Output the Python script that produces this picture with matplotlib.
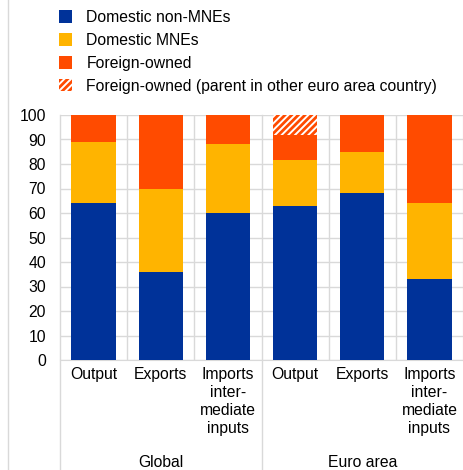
import numpy as np
import matplotlib
matplotlib.use("Agg")
import matplotlib.pyplot as plt
from matplotlib.patches import Patch
from matplotlib.lines import Line2D

plt.rcParams['font.family'] = ['Liberation Sans', 'DejaVu Sans']
plt.rcParams['hatch.linewidth'] = 2.0

# data (shares in %)
categories = ['Output', 'Exports', 'Imports\ninter-\nmediate\ninputs',
              'Output', 'Exports', 'Imports\ninter-\nmediate\ninputs']
groups = ['Global', 'Euro area']
domestic_non_mne = [64, 36, 60, 62.7, 68, 33]
domestic_mne = [25, 34, 28, 18.8, 16.7, 31]
foreign_owned = [11, 30, 12, 10.5, 15.3, 36]
foreign_owned_ea = [0, 0, 0, 8, 0, 0]

labels = ['Domestic non-MNEs', 'Domestic MNEs', 'Foreign-owned',
          'Foreign-owned (parent in other euro area country)']

blue = '#003299'
yellow = '#FFB400'
red = '#FF4B00'
grid_col = '#d9d9d9'
fs = 11.3

fig = plt.figure(figsize=(4.64, 4.70), dpi=100)
ax = fig.add_axes([60 / 464, 1 - 360 / 470, 404 / 464 - 0.002, 245 / 470])

x = np.arange(len(categories))
w = 0.66
b1 = np.array(domestic_non_mne)
b2 = b1 + np.array(domestic_mne)
b3 = b2 + np.array(foreign_owned)
ax.bar(x, domestic_non_mne, w, color=blue, zorder=3)
ax.bar(x, domestic_mne, w, bottom=b1, color=yellow, zorder=3)
ax.bar(x, foreign_owned, w, bottom=b2, color=red, zorder=3)
ax.bar(x, foreign_owned_ea, w, bottom=b3, facecolor='white', edgecolor=red,
       hatch='/////', linewidth=0, zorder=3)

ax.set_xlim(-0.5, len(categories) - 0.5)
ax.set_ylim(0, 100)
ax.set_yticks(range(0, 101, 10))
ax.tick_params(axis='y', length=0, pad=10, labelsize=fs)
ax.tick_params(axis='x', length=0, pad=5, labelsize=fs)
ax.set_xticks(x)
ax.set_xticklabels(categories, linespacing=1.26, va='top')

ax.grid(axis='y', color=grid_col, linewidth=1, zorder=0)
for xb in np.arange(0.5, len(categories) - 0.5, 1):
    if xb == 2.5:
        ax.axvline(xb, ymin=-0.45, ymax=1, color=grid_col, lw=1, clip_on=False, zorder=0)
    else:
        ax.axvline(xb, color=grid_col, lw=1, zorder=0)
ax.axvline(-0.5, ymin=-0.45, ymax=1, color=grid_col, lw=1, clip_on=False, zorder=0)

for s in ['top', 'left']:
    ax.spines[s].set_visible(False)
ax.spines['bottom'].set_color(grid_col)
ax.spines['right'].set_color(grid_col)

for i, g in enumerate(groups):
    ax.text(1 + 3 * i, -0.42, g, transform=ax.get_xaxis_transform(),
            ha='center', va='center', fontsize=fs)

fig.add_artist(Line2D([8 / 464, 8 / 464], [0, 1], color=grid_col, lw=1))

handles = [Patch(facecolor=blue), Patch(facecolor=yellow), Patch(facecolor=red),
           Patch(facecolor='white', edgecolor=red, hatch='/////', linewidth=0)]
fig.legend(handles, labels, loc='upper left', bbox_to_anchor=(59 / 464, 1 - 10 / 470),
           frameon=False, fontsize=fs, handlelength=0.85, handleheight=0.85,
           handletextpad=0.9, labelspacing=0.5, borderpad=0, borderaxespad=0)

fig.savefig('out.png', dpi=100)
